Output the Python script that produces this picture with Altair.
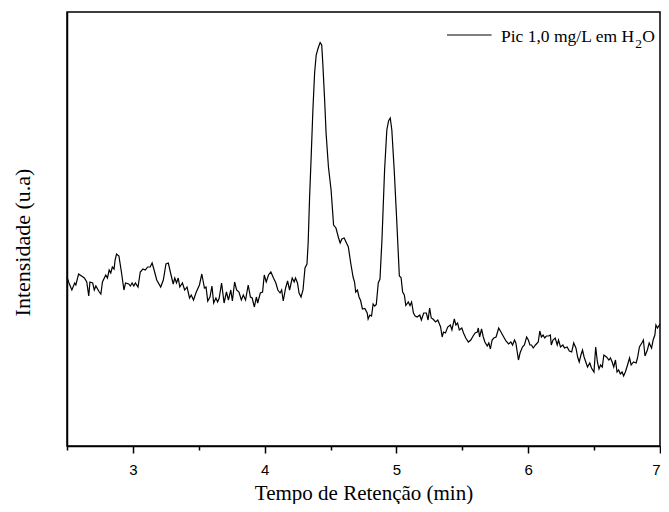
import altair as alt
import pandas as pd

# Retention time (min)
tempo = [
    2.500, 2.515, 2.537, 2.558, 2.567, 2.588, 2.632, 2.650, 2.665, 2.674,
    2.695, 2.707, 2.719, 2.745, 2.757, 2.769, 2.794, 2.807, 2.820, 2.832,
    2.844, 2.857, 2.865, 2.876, 2.894, 2.914, 2.932, 2.944, 2.969, 2.981,
    2.994, 3.007, 3.019, 3.039, 3.056, 3.076, 3.094, 3.112, 3.131, 3.146,
    3.161, 3.181, 3.211, 3.231, 3.251, 3.269, 3.286, 3.306, 3.318, 3.331,
    3.344, 3.356, 3.376, 3.393, 3.411, 3.430, 3.443, 3.460, 3.481, 3.505,
    3.523, 3.543, 3.555, 3.568, 3.585, 3.600, 3.613, 3.630, 3.643, 3.655,
    3.673, 3.692, 3.710, 3.725, 3.743, 3.755, 3.772, 3.787, 3.805, 3.823,
    3.838, 3.855, 3.875, 3.892, 3.905, 3.922, 3.937, 3.947, 3.967, 3.984,
    3.997, 4.012, 4.029, 4.047, 4.067, 4.085, 4.100, 4.117, 4.129, 4.141,
    4.159, 4.174, 4.189, 4.209, 4.224, 4.234, 4.249, 4.261, 4.276, 4.291,
    4.306, 4.321, 4.330, 4.341, 4.354, 4.366, 4.379, 4.391, 4.406, 4.421,
    4.433, 4.441, 4.454, 4.466, 4.484, 4.504, 4.523, 4.541, 4.561, 4.573,
    4.586, 4.603, 4.621, 4.635, 4.653, 4.671, 4.682, 4.691, 4.704, 4.716,
    4.728, 4.742, 4.760, 4.778, 4.785, 4.798, 4.811, 4.823, 4.835, 4.847,
    4.862, 4.875, 4.890, 4.910, 4.927, 4.940, 4.953, 4.965, 4.983, 5.002,
    5.022, 5.035, 5.047, 5.060, 5.071, 5.090, 5.103, 5.115, 5.129, 5.142,
    5.157, 5.177, 5.189, 5.207, 5.227, 5.240, 5.252, 5.264, 5.277, 5.297,
    5.314, 5.335, 5.347, 5.357, 5.372, 5.389, 5.409, 5.421, 5.439, 5.451,
    5.464, 5.477, 5.496, 5.509, 5.526, 5.546, 5.564, 5.582, 5.597, 5.614,
    5.621, 5.631, 5.646, 5.659, 5.671, 5.689, 5.701, 5.713, 5.726, 5.739,
    5.756, 5.776, 5.793, 5.814, 5.831, 5.851, 5.868, 5.881, 5.896, 5.906,
    5.926, 5.938, 5.956, 5.971, 5.988, 6.001, 6.013, 6.025, 6.038, 6.055,
    6.076, 6.088, 6.100, 6.113, 6.125, 6.138, 6.155, 6.168, 6.175, 6.188,
    6.205, 6.220, 6.230, 6.245, 6.263, 6.275, 6.295, 6.312, 6.330, 6.345,
    6.362, 6.375, 6.387, 6.400, 6.412, 6.424, 6.437, 6.450, 6.467, 6.480,
    6.499, 6.512, 6.525, 6.537, 6.549, 6.562, 6.574, 6.594, 6.612, 6.624,
    6.637, 6.649, 6.662, 6.674, 6.686, 6.699, 6.712, 6.724, 6.737, 6.749,
    6.769, 6.781, 6.799, 6.819, 6.829, 6.844, 6.862, 6.874, 6.886, 6.904,
    6.918, 6.936, 6.948, 6.961, 6.969, 6.981, 7.000,
]

# Intensity (arbitrary units)
intensidade = [
    169, 163, 156, 163, 161, 172, 168, 164, 150, 164,
    163, 156, 160, 154, 152, 164, 171, 168, 176, 173,
    179, 177, 186, 192, 190, 173, 156, 163, 162, 160,
    163, 160, 163, 159, 174, 177, 176, 179, 179, 183,
    176, 166, 159, 166, 182, 183, 173, 162, 168, 163,
    168, 159, 163, 156, 159, 148, 151, 146, 154, 161,
    172, 158, 159, 145, 149, 160, 143, 148, 144, 148,
    163, 143, 154, 146, 156, 145, 164, 156, 154, 146,
    151, 146, 161, 149, 148, 139, 149, 143, 153, 154,
    171, 164, 171, 174, 168, 163, 156, 153, 156, 145,
    158, 165, 156, 168, 164, 168, 163, 153, 149, 156,
    178, 182, 203, 249, 293, 336, 373, 391, 398, 403.5,
    401, 383, 349, 313, 279, 256, 221, 218, 208, 203,
    207, 208, 203, 199, 183, 169, 164, 154, 156, 149,
    145.5, 137, 137.5, 133, 127, 131, 130, 142, 140, 141.5,
    163, 167, 206, 276, 316, 325, 328, 316, 276, 226,
    170, 168.5, 154, 151, 140.5, 144, 140.5, 144, 133, 130,
    129, 131, 126, 133, 133, 126, 138, 128, 127, 124,
    126, 119, 109, 114, 113, 119, 121, 116, 127, 121,
    123, 116, 118, 113, 108, 104, 106, 110, 113, 114,
    118, 109, 117, 109, 104, 100, 103, 97, 106, 108,
    109, 118, 114, 109, 105, 102, 104, 101, 106, 103,
    86, 93, 99, 101, 109, 106, 101, 101, 98, 101,
    104, 115, 109, 111, 108, 110, 110, 111, 101, 106,
    108, 101, 106, 99, 101, 98, 99, 95, 94, 103,
    98, 89, 84, 91, 96, 89, 84, 79, 83, 78,
    74, 99, 84, 77, 81, 79, 91, 89, 86, 88,
    84, 79, 86, 74, 76, 72, 74, 70, 74, 79,
    88, 81, 84, 83, 88, 99, 103, 106, 90, 96,
    103, 98, 106, 111, 121, 118, 122,
]

x_domain = [2.5, 7.0]
y_domain = [0, 434]
tick_values = [2.5, 3.0, 3.5, 4.0, 4.5, 5.0, 5.5, 6.0, 6.5, 7.0]

legend_main = "Pic 1,0 mg/L em H"
legend_sub = "2"
legend_tail = "O"

x_title = "Tempo de Retenção (min)"
y_title = "Intensidade (u.a)"

df = pd.DataFrame({"tempo": tempo, "intensidade": intensidade})

W, H = 593, 434
SERIF = "Liberation Serif"
SANS = "Liberation Sans"

line = alt.Chart(df).mark_line(color="black", strokeWidth=1.2).encode(
    x=alt.X(
        "tempo:Q",
        scale=alt.Scale(domain=x_domain, nice=False, zero=False),
        axis=alt.Axis(
            title=x_title,
            values=tick_values,
            labelExpr="datum.value % 1 === 0 ? format(datum.value, 'd') : ''",
            tickSize={"condition": {"test": "datum.value % 1 === 0", "value": 7}, "value": 4},
            labelFlush=True,
            labelFont=SANS,
            labelFontSize=15,
            labelColor="black",
            labelPadding=9,
            titleFont=SERIF,
            titleFontSize=21,
            titleFontWeight="normal",
            titleColor="black",
            titlePadding=5,
            grid=False,
            domainColor="black",
            domainWidth=1.5,
            tickColor="black",
            tickWidth=1.5,
        ),
    ),
    y=alt.Y(
        "intensidade:Q",
        scale=alt.Scale(domain=y_domain, nice=False, zero=False),
        axis=alt.Axis(
            title=y_title,
            labels=False,
            ticks=False,
            grid=False,
            domainColor="black",
            domainWidth=1.5,
            titleFont=SERIF,
            titleFontSize=22,
            titleFontWeight="normal",
            titleColor="black",
            titlePadding=33,
            titleY=230,
        ),
    ),
)

one = pd.DataFrame({"k": [0]})

leg_line = alt.Chart(one).mark_rule(color="black", strokeWidth=1.1).encode(
    x=alt.value(380), x2=alt.value(424.6), y=alt.value(23)
)
leg_text = alt.Chart(one).mark_text(
    font=SERIF, fontSize=17.5, align="left", baseline="alphabetic", color="black"
).encode(x=alt.value(434), y=alt.value(29.7), text=alt.value(legend_main))
leg_sub = alt.Chart(one).mark_text(
    font=SERIF, fontSize=13.5, align="left", baseline="alphabetic", color="black"
).encode(x=alt.value(568.2), y=alt.value(36), text=alt.value(legend_sub))
leg_tail = alt.Chart(one).mark_text(
    font=SERIF, fontSize=17.5, align="left", baseline="alphabetic", color="black"
).encode(x=alt.value(575.2), y=alt.value(29.7), text=alt.value(legend_tail))

chart = alt.layer(line, leg_line, leg_text, leg_sub, leg_tail).properties(
    width=W,
    height=H,
    autosize=alt.AutoSizeParams(type="none"),
    padding={"left": 59, "top": 4, "right": 1, "bottom": 58},
    background="white",
).configure_view(
    stroke="black", strokeWidth=1.5
)

chart.save("out.html", embed_options={"renderer": "svg", "actions": False})
